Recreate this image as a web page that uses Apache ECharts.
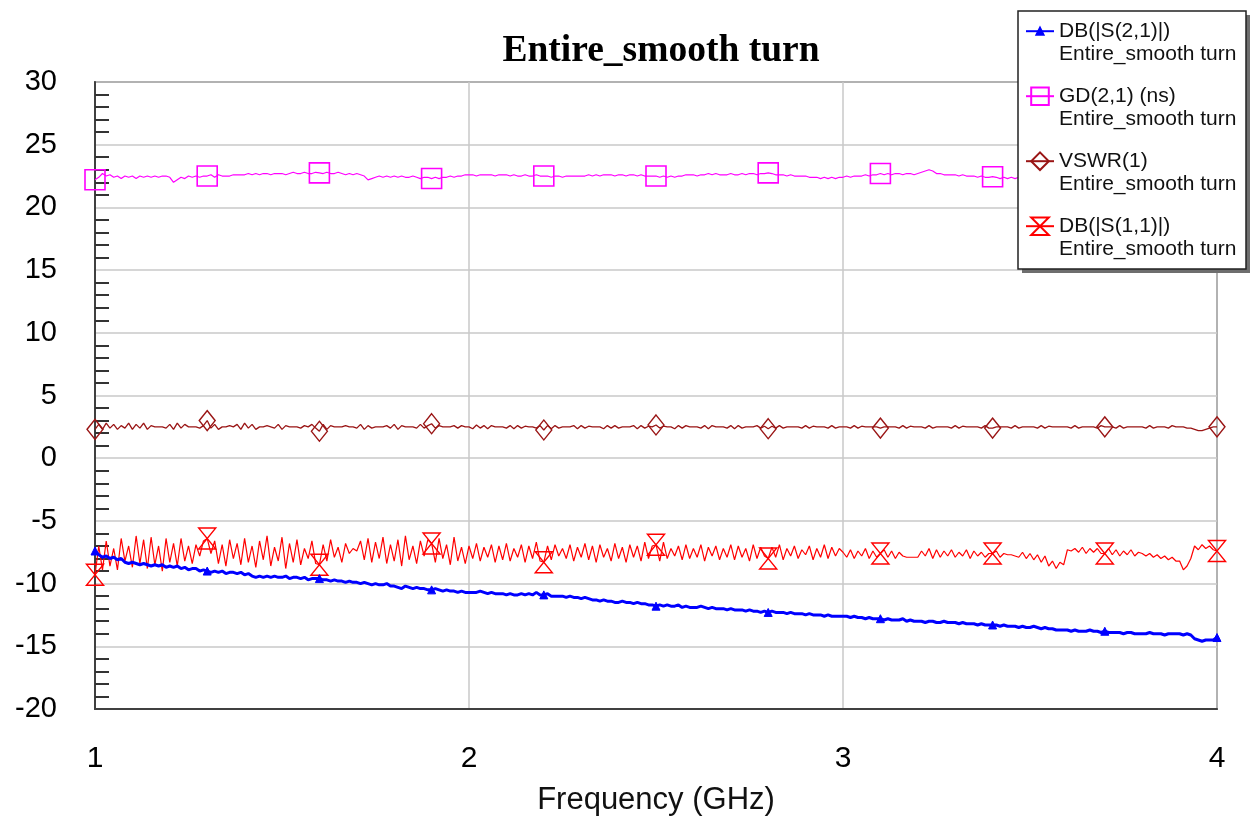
<!DOCTYPE html>
<html>
<head>
<meta charset="utf-8">
<script src="https://cdn.jsdelivr.net/npm/echarts@6/dist/echarts.min.js"></script>
<style>html,body{margin:0;padding:0;background:#fff;}#chart{width:1255px;height:821px;}</style>
</head>
<body>
<div id="chart"></div>
<script>
// Frequency sweep: 1 GHz to 4 GHz, 0.01 GHz step (301 points)
const FREQ_START = 1;
const FREQ_STEP = 0.01;
const X_TICKS = [1, 2, 3, 4];
const Y_TICKS = [-20, -15, -10, -5, 0, 5, 10, 15, 20, 25, 30];
const SERIES_NAMES = ['DB(|S(2,1)|)', 'GD(2,1) (ns)', 'VSWR(1)', 'DB(|S(1,1)|)'];
const SUBTITLE = 'Entire_smooth turn';

const s21 = [
-7.4,-7.7,-7.9,-7.8,-8.0,-7.9,-8.1,-8.0,-8.3,-8.4,
-8.3,-8.4,-8.5,-8.4,-8.5,-8.6,-8.5,-8.6,-8.5,-8.7,
-8.6,-8.7,-8.6,-8.8,-8.7,-8.9,-8.8,-8.8,-9.0,-8.9,
-9.0,-9.1,-9.0,-9.1,-9.0,-9.2,-9.1,-9.1,-9.2,-9.1,
-9.3,-9.2,-9.4,-9.5,-9.4,-9.5,-9.4,-9.5,-9.4,-9.5,
-9.5,-9.4,-9.6,-9.5,-9.5,-9.6,-9.5,-9.7,-9.6,-9.6,
-9.6,-9.7,-9.7,-9.8,-9.7,-9.8,-9.8,-9.9,-9.8,-9.9,
-9.9,-10.0,-9.9,-10.0,-10.1,-10.0,-10.1,-10.1,-10.0,-10.2,
-10.2,-10.3,-10.4,-10.2,-10.3,-10.4,-10.3,-10.4,-10.4,-10.5,
-10.5,-10.4,-10.5,-10.6,-10.5,-10.6,-10.6,-10.7,-10.6,-10.7,
-10.7,-10.7,-10.7,-10.6,-10.7,-10.8,-10.7,-10.8,-10.8,-10.8,
-10.9,-10.8,-10.9,-10.9,-10.8,-10.9,-10.8,-10.9,-10.7,-10.9,
-10.9,-10.8,-11.0,-11.0,-11.0,-11.0,-11.1,-11.0,-11.1,-11.1,
-11.2,-11.1,-11.2,-11.3,-11.3,-11.4,-11.3,-11.4,-11.4,-11.5,
-11.5,-11.4,-11.5,-11.5,-11.6,-11.5,-11.6,-11.6,-11.7,-11.7,
-11.8,-11.7,-11.8,-11.7,-11.8,-11.8,-11.7,-11.9,-11.8,-11.9,
-11.9,-11.9,-11.8,-11.9,-12.0,-11.9,-12.0,-12.0,-12.0,-12.1,
-12.0,-12.1,-12.1,-12.1,-12.2,-12.1,-12.2,-12.2,-12.3,-12.2,
-12.3,-12.2,-12.3,-12.3,-12.3,-12.4,-12.3,-12.4,-12.4,-12.4,
-12.5,-12.4,-12.5,-12.5,-12.5,-12.6,-12.5,-12.6,-12.6,-12.6,
-12.6,-12.6,-12.7,-12.6,-12.7,-12.7,-12.8,-12.7,-12.8,-12.8,
-12.8,-12.9,-12.8,-12.9,-12.9,-12.9,-12.8,-13.0,-12.9,-13.0,
-13.0,-13.0,-13.1,-13.0,-13.0,-13.1,-13.1,-13.0,-13.1,-13.1,
-13.1,-13.2,-13.1,-13.2,-13.2,-13.2,-13.3,-13.2,-13.3,-13.3,
-13.3,-13.3,-13.4,-13.3,-13.4,-13.4,-13.4,-13.5,-13.4,-13.5,
-13.5,-13.4,-13.5,-13.6,-13.5,-13.6,-13.6,-13.7,-13.7,-13.7,
-13.7,-13.8,-13.7,-13.8,-13.8,-13.8,-13.7,-13.8,-13.8,-13.9,
-13.8,-13.9,-13.9,-13.9,-13.9,-14.0,-13.9,-13.9,-14.0,-14.0,
-14.0,-14.0,-13.9,-14.0,-14.0,-14.0,-14.1,-14.0,-14.0,-14.0,
-14.0,-14.1,-14.0,-14.1,-14.4,-14.5,-14.6,-14.5,-14.5,-14.5,
-14.3
];

const gd = [
22.2,22.4,22.7,22.5,22.6,22.4,22.5,22.3,22.5,22.4,
22.5,22.3,22.5,22.4,22.5,22.4,22.5,22.4,22.5,22.5,
22.4,22.0,22.2,22.4,22.3,22.5,22.4,22.5,22.4,22.5,
22.5,22.6,22.4,22.6,22.5,22.5,22.5,22.6,22.6,22.6,
22.6,22.7,22.6,22.7,22.6,22.7,22.7,22.6,22.7,22.7,
22.7,22.6,22.7,22.8,22.7,22.7,22.8,22.7,22.7,22.8,
22.75,22.7,22.8,22.7,22.7,22.8,22.7,22.6,22.7,22.6,
22.7,22.6,22.5,22.2,22.3,22.4,22.5,22.4,22.5,22.4,
22.5,22.4,22.5,22.4,22.4,22.5,22.4,22.3,22.4,22.4,
22.3,22.4,22.3,22.4,22.4,22.5,22.4,22.5,22.5,22.6,
22.6,22.6,22.5,22.6,22.6,22.6,22.6,22.5,22.6,22.6,
22.6,22.5,22.6,22.5,22.5,22.6,22.5,22.5,22.6,22.5,
22.5,22.5,22.4,22.5,22.5,22.4,22.5,22.5,22.5,22.5,
22.5,22.5,22.6,22.5,22.6,22.5,22.6,22.6,22.6,22.5,
22.6,22.6,22.5,22.6,22.6,22.5,22.6,22.5,22.5,22.5,
22.5,22.4,22.5,22.4,22.5,22.4,22.5,22.5,22.6,22.6,
22.6,22.5,22.6,22.6,22.7,22.6,22.7,22.6,22.6,22.6,
22.7,22.6,22.6,22.7,22.6,22.7,22.7,22.6,22.7,22.7,
22.75,22.7,22.6,22.6,22.6,22.5,22.6,22.5,22.5,22.5,
22.5,22.4,22.4,22.4,22.3,22.4,22.3,22.4,22.3,22.4,
22.4,22.5,22.4,22.5,22.5,22.5,22.6,22.5,22.6,22.6,
22.7,22.6,22.7,22.6,22.7,22.7,22.6,22.7,22.7,22.6,
22.7,22.8,22.9,23.0,22.9,22.7,22.7,22.6,22.6,22.6,
22.6,22.5,22.6,22.5,22.5,22.5,22.4,22.5,22.4,22.4,
22.45,22.4,22.3,22.4,22.3,22.4,22.3,22.4,22.4,22.5,
22.5,22.4,22.5,22.5,22.5,22.6,22.5,22.6,22.6,22.5,
22.6,22.5,22.6,22.6,22.6,22.5,22.6,22.6,22.6,22.6,
22.6,22.6,22.5,22.6,22.5,22.6,22.6,22.5,22.6,22.5,
22.5,22.6,22.5,22.5,22.6,22.5,22.5,22.5,22.6,22.5,
22.5,22.5,22.6,22.5,22.5,22.5,22.5,22.6,22.5,22.5,
22.5
];

const vswr = [
2.3,2.7,2.3,2.8,2.4,2.7,2.3,2.6,2.4,2.8,
2.3,2.7,2.4,2.8,2.3,2.6,2.5,2.5,2.5,2.4,
2.7,2.3,2.8,2.4,2.7,2.5,2.5,2.5,2.4,2.6,
3.0,2.4,2.7,2.3,2.5,2.5,2.6,2.5,2.7,2.3,
2.8,2.4,2.7,2.3,2.5,2.5,2.6,2.5,2.4,2.7,
2.3,2.6,2.5,2.5,2.5,2.4,2.6,2.5,2.7,2.4,
2.15,2.7,2.3,2.6,2.5,2.5,2.5,2.6,2.5,2.5,
2.4,2.7,2.3,2.6,2.4,2.5,2.5,2.5,2.6,2.4,
2.7,2.3,2.6,2.5,2.5,2.5,2.4,2.7,2.4,2.6,
2.75,2.4,2.6,2.5,2.5,2.5,2.6,2.4,2.6,2.5,
2.5,2.35,2.65,2.4,2.6,2.35,2.6,2.5,2.5,2.5,
2.4,2.6,2.35,2.6,2.4,2.55,2.5,2.5,2.4,2.6,
2.25,2.6,2.35,2.6,2.4,2.5,2.5,2.5,2.6,2.35,
2.6,2.4,2.55,2.5,2.5,2.5,2.35,2.6,2.4,2.6,
2.4,2.5,2.5,2.5,2.6,2.35,2.6,2.4,2.55,2.5,
2.65,2.4,2.55,2.5,2.5,2.35,2.6,2.4,2.6,2.5,
2.5,2.5,2.4,2.6,2.35,2.6,2.5,2.5,2.5,2.4,
2.6,2.35,2.6,2.4,2.5,2.5,2.5,2.6,2.4,2.55,
2.35,2.55,2.4,2.6,2.4,2.5,2.5,2.5,2.5,2.4,
2.6,2.4,2.55,2.5,2.5,2.5,2.4,2.6,2.4,2.5,
2.5,2.5,2.4,2.6,2.4,2.55,2.5,2.5,2.5,2.5,
2.4,2.5,2.5,2.5,2.5,2.4,2.6,2.4,2.55,2.5,
2.5,2.5,2.4,2.6,2.4,2.5,2.5,2.5,2.5,2.4,
2.6,2.4,2.55,2.5,2.5,2.5,2.5,2.4,2.6,2.4,
2.4,2.5,2.5,2.5,2.5,2.4,2.6,2.4,2.5,2.5,
2.5,2.5,2.4,2.6,2.4,2.55,2.5,2.5,2.5,2.5,
2.5,2.4,2.6,2.4,2.5,2.5,2.5,2.5,2.4,2.6,
2.5,2.5,2.5,2.4,2.6,2.4,2.5,2.5,2.5,2.5,
2.5,2.4,2.6,2.4,2.5,2.5,2.5,2.4,2.6,2.5,
2.5,2.5,2.4,2.4,2.3,2.2,2.2,2.3,2.4,2.5,
2.5
];

const s11 = [
-9.3,-7.0,-8.9,-6.6,-8.6,-7.2,-8.9,-6.4,-8.2,-7.0,
-8.7,-6.2,-8.4,-6.5,-8.8,-6.3,-8.5,-7.0,-9.0,-6.4,
-8.3,-6.8,-8.6,-6.4,-8.2,-7.0,-8.4,-6.9,-7.8,-6.6,
-6.4,-7.6,-6.6,-8.4,-6.9,-8.6,-6.5,-8.0,-6.8,-8.5,
-6.4,-8.3,-7.0,-8.7,-6.6,-8.1,-6.2,-8.6,-7.1,-8.2,
-6.3,-8.8,-6.8,-8.3,-6.5,-8.5,-7.2,-8.0,-6.6,-8.4,
-8.5,-6.9,-8.2,-6.5,-7.9,-7.1,-8.3,-6.8,-7.6,-7.2,
-7.4,-6.6,-8.1,-6.4,-8.3,-6.7,-8.0,-6.3,-8.4,-6.9,
-8.2,-6.5,-8.6,-6.2,-8.1,-7.0,-8.4,-6.6,-7.8,-6.5,
-6.8,-8.3,-6.4,-8.0,-6.9,-8.5,-6.3,-8.2,-7.1,-8.4,
-7.0,-8.0,-6.8,-8.2,-7.1,-7.9,-6.9,-8.3,-7.0,-8.1,
-6.8,-8.2,-7.2,-7.9,-6.9,-8.3,-7.0,-8.0,-6.7,-8.2,
-8.3,-7.0,-8.1,-6.9,-7.8,-7.2,-8.0,-6.9,-8.2,-7.1,
-7.9,-6.8,-8.1,-7.0,-8.3,-6.9,-7.9,-7.2,-8.2,-6.8,
-8.0,-7.1,-8.3,-6.9,-7.9,-7.0,-8.2,-6.7,-8.0,-7.0,
-6.9,-8.2,-6.7,-8.0,-7.2,-7.8,-7.0,-8.1,-6.9,-8.0,
-7.2,-7.9,-6.9,-8.2,-7.1,-7.8,-7.0,-8.1,-7.2,-7.9,
-6.9,-8.1,-7.0,-7.9,-7.2,-8.2,-6.9,-8.0,-7.1,-7.8,
-8.0,-7.1,-7.9,-6.9,-8.1,-7.2,-7.8,-7.0,-8.0,-7.3,
-7.7,-7.0,-8.1,-7.2,-7.9,-6.9,-8.0,-7.1,-7.8,-7.2,
-7.5,-7.9,-7.3,-8.0,-7.4,-7.8,-7.2,-8.0,-7.4,-7.9,
-7.6,-7.3,-7.9,-7.4,-8.0,-7.5,-7.8,-7.9,-7.9,-7.9,
-7.9,-7.4,-7.8,-7.2,-8.0,-7.3,-7.9,-7.4,-7.8,-7.3,
-7.9,-7.5,-7.8,-7.3,-8.0,-7.4,-7.8,-7.5,-7.9,-7.6,
-7.6,-7.4,-7.9,-7.6,-7.7,-7.7,-7.8,-7.9,-7.5,-8.0,
-7.6,-8.1,-7.7,-8.3,-7.8,-8.6,-8.2,-8.8,-8.3,-8.5,
-7.3,-7.4,-7.2,-7.5,-7.1,-7.6,-7.2,-7.5,-7.2,-7.6,
-7.6,-7.2,-7.7,-7.3,-7.8,-7.4,-7.7,-7.3,-7.8,-7.5,
-7.6,-7.8,-7.6,-7.9,-7.7,-8.0,-7.8,-8.1,-7.9,-8.2,
-8.2,-8.9,-8.6,-8.0,-7.0,-7.3,-6.9,-7.2,-7.0,-7.3,
-7.4
];

const freq = s21.map((_, i) => +(FREQ_START + i * FREQ_STEP).toFixed(2));
const pairs = arr => arr.map((v, i) => [freq[i], v]);
const MARK_EVERY = 30;

const chart = echarts.init(document.getElementById('chart'), null, {renderer: 'canvas'});

function markerSize(size) {
  return function (val, params) {
    return params.dataIndex % MARK_EVERY === 0 ? size : 0;
  };
}

const LINE_H = 23.5;

const option = {
  animation: false,
  backgroundColor: '#ffffff',
  title: {
    text: 'Entire_smooth turn',
    left: 656,
    textAlign: 'center',
    top: 27,
    textStyle: {fontFamily: 'Liberation Serif', fontWeight: 'bold', fontSize: 37.5, color: '#000'}
  },
  grid: {
    left: 95, right: 38, top: 82, bottom: 112,
    show: true, borderColor: '#404040', borderWidth: 1.5, backgroundColor: 'transparent'
  },
  graphic: [
    {
      type: 'rect', z: 3, silent: true,
      shape: {x: 1022, y: 15, width: 228, height: 258},
      style: {fill: '#6e6e6e'}
    },
    {
      type: 'rect', z: 3, silent: true,
      shape: {x: 1018, y: 11, width: 228, height: 258},
      style: {fill: '#fff', stroke: '#222', lineWidth: 1.5}
    }
  ],
  legend: {
    z: 10,
    orient: 'vertical',
    left: 1025,
    top: 31.2 - 1.5 * LINE_H,
    padding: 0,
    itemGap: 65 - 3 * LINE_H,
    itemWidth: 28,
    itemHeight: 22,
    selectedMode: false,
    data: SERIES_NAMES,
    formatter: name => '\n' + name + '\n' + SUBTITLE,
    textStyle: {fontFamily: 'Liberation Sans', fontSize: 21, color: '#111', lineHeight: LINE_H}
  },
  xAxis: {
    type: 'value',
    min: X_TICKS[0], max: X_TICKS[X_TICKS.length - 1], interval: 1,
    name: 'Frequency (GHz)', nameLocation: 'middle', nameGap: 76,
    nameTextStyle: {fontFamily: 'Liberation Sans', fontSize: 31, color: '#111'},
    axisLine: {show: true, onZero: false, lineStyle: {color: '#404040', width: 2}},
    axisTick: {show: false},
    axisLabel: {fontFamily: 'Liberation Sans', fontSize: 30, color: '#000', margin: 35},
    splitLine: {show: true, lineStyle: {color: '#c8c8c8', width: 1.5}}
  },
  yAxis: {
    type: 'value',
    min: Y_TICKS[0], max: Y_TICKS[Y_TICKS.length - 1], interval: 5,
    axisLine: {show: true, onZero: false, lineStyle: {color: '#404040', width: 2}},
    axisTick: {show: false, inside: true},
    minorTick: {show: true, splitNumber: 5, length: 14, lineStyle: {color: '#333', width: 2}},
    axisLabel: {fontFamily: 'Liberation Sans', fontSize: 29, color: '#000', margin: 38},
    splitLine: {show: true, lineStyle: {color: '#c8c8c8', width: 1.5}}
  },
  series: [
    {
      name: SERIES_NAMES[0], type: 'line', data: pairs(s21),
      symbol: 'path://M0,0M20,20M6,14L10,6L14,14Z',
      symbolSize: markerSize(20),
      lineStyle: {color: '#0000ff', width: 3},
      itemStyle: {color: '#0000ff', borderColor: '#0000ff', borderWidth: 1},
      z: 5
    },
    {
      name: SERIES_NAMES[1], type: 'line', data: pairs(gd),
      symbol: 'rect',
      symbolSize: markerSize([20, 20]),
      lineStyle: {color: '#ff00ff', width: 1.2},
      itemStyle: {color: 'rgba(0,0,0,0)', borderColor: '#ff00ff', borderWidth: 1.6},
      z: 2
    },
    {
      name: SERIES_NAMES[2], type: 'line', data: pairs(vswr),
      symbol: 'diamond',
      symbolSize: markerSize([16, 20]),
      lineStyle: {color: '#9a1515', width: 1.3},
      itemStyle: {color: 'rgba(0,0,0,0)', borderColor: '#9a1515', borderWidth: 1.4},
      z: 2
    },
    {
      name: SERIES_NAMES[3], type: 'line', data: pairs(s11),
      symbol: 'path://M0,0L10,0L0,12L10,12Z',
      symbolSize: markerSize([17, 21]),
      lineStyle: {color: '#ff0000', width: 1.2},
      itemStyle: {color: 'rgba(0,0,0,0)', borderColor: '#ff0000', borderWidth: 1.4},
      z: 3
    }
  ]
};
chart.setOption(option);
</script>
</body>
</html>
